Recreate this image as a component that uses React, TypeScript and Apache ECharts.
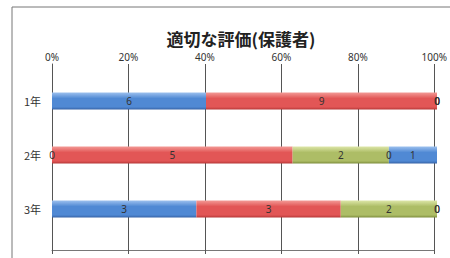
import React, { useEffect, useRef } from "react";
import * as echarts from "echarts";

const title = "適切な評価(保護者)";
const categories = ["1年", "2年", "3年"];
const xTicks = [0, 20, 40, 60, 80, 100];
const seriesNames = ["系列1", "系列2", "系列3", "系列4", "系列5"];
const s1 = [6, 0, 3];
const s2 = [9, 5, 3];
const s3 = [0, 2, 2];
const s4 = [0, 0, 0];
const s5 = [0, 1, 0];

const colors = [
  ["#9cc0ee", "#5089d4", "#3662a6"],
  ["#f39a96", "#e25656", "#b63838"],
  ["#dde6a8", "#adbd66", "#7d8d3c"],
  ["#b9a6d6", "#8a70b8", "#5f4a8c"],
  ["#9cc0ee", "#5089d4", "#3662a6"],
];

export default function App() {
  const ref = useRef<HTMLDivElement>(null);
  useEffect(() => {
    if (!ref.current) return;
    const chart = echarts.init(ref.current, undefined, { renderer: "svg" });
    const all = [s1, s2, s3, s4, s5];
    const totals = categories.map((_, i) => all.reduce((a, s) => a + s[i], 0));
    const series = all.map((s, k) => ({
      name: seriesNames[k],
      type: "bar",
      stack: "total",
      xAxisIndex: 1,
      yAxisIndex: 1,
      barWidth: 17,
      data: s.map((v, i) => ({ value: (v / totals[i]) * 100, raw: v })),
      itemStyle: {
        color: new echarts.graphic.LinearGradient(0, 0, 0, 1, [
          { offset: 0, color: colors[k][0] },
          { offset: 0.35, color: colors[k][1] },
          { offset: 0.85, color: colors[k][1] },
          { offset: 1, color: colors[k][2] },
        ]),
      },
      label: {
        show: true,
        position: "inside",
        color: "#333",
        fontSize: 10,
        fontFamily: "Noto Sans",
        formatter: (p: any) => String(p.data.raw),
      },
    }));
    chart.setOption({
      animation: false,
      title: {
        text: title,
        left: 236,
        textAlign: "center",
        top: 24,
        textStyle: {
          fontSize: 17,
          lineHeight: 18,
          fontWeight: "bold",
          color: "#222",
          fontFamily: "Noto Sans CJK JP",
        },
      },
      grid: [
        { left: 52, right: 13, top: 64, bottom: 8 },
        { left: 52, right: 13, top: 74, bottom: 22 },
      ],
      xAxis: [
        {
          gridIndex: 0,
          type: "value",
          position: "top",
          min: 0,
          max: 100,
          interval: 20,
          axisLine: { show: true, lineStyle: { color: "#777" } },
          axisTick: { show: true, length: 4, inside: true, lineStyle: { color: "#555" } },
          axisLabel: {
            formatter: (v: number) => (xTicks.includes(v) ? v + "%" : ""),
            color: "#333",
            fontSize: 10,
            fontFamily: "Noto Sans",
            margin: 2,
          },
          splitLine: { show: true, lineStyle: { color: "#555", width: 1 } },
        },
        {
          gridIndex: 1,
          type: "value",
          min: 0,
          max: 100,
          show: false,
        },
      ],
      yAxis: [
        {
          gridIndex: 0,
          type: "value",
          min: 0,
          max: 1,
          axisLine: { show: true, lineStyle: { color: "#555" } },
          axisTick: { show: false },
          axisLabel: { show: false },
          splitLine: { show: false },
        },
        {
          gridIndex: 1,
          type: "category",
          inverse: true,
          data: categories,
          axisLine: { show: false },
          axisTick: { show: false },
          axisLabel: {
            color: "#333",
            fontSize: 11,
            fontFamily: "Noto Sans CJK JP",
            margin: 11,
          },
        },
      ],
      graphic: [
        {
          type: "rect",
          shape: { x: 12, y: 7, width: 460, height: 270 },
          style: { fill: "none", stroke: "#777", lineWidth: 1 },
          silent: true,
        },
      ],
      series,
    });
    return () => chart.dispose();
  }, []);
  return (
    <div
      ref={ref}
      style={{ position: "absolute", left: 0, top: 0, width: 450, height: 258, background: "#fff" }}
    />
  );
}
